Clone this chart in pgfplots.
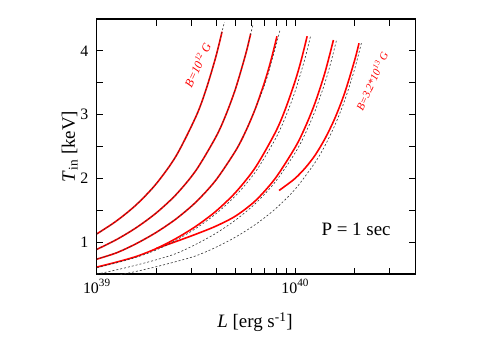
\documentclass[border=0pt]{standalone}
\usepackage{fontspec}
\setmainfont{Liberation Serif}
\usepackage{pgfplots}
\pgfplotsset{compat=1.18}
\begin{document}
\begin{tikzpicture}
\path[use as bounding box] (-96.7bp,-69bp) rectangle (394.3bp,274bp);
\begin{axis}[
  at={(0,0)}, anchor=south west,
  scale only axis, width=319bp, height=255bp,
  xmode=log, xmin=1e39, xmax=4.06e40, ymin=0.5, ymax=4.5,
  xtick={1e39,1e40}, xticklabels={10\textsuperscript{39},10\textsuperscript{40}},
  minor xtick={2e39,3e39,4e39,5e39,6e39,7e39,8e39,9e39,2e40,3e40},
  ytick={1,2,3,4}, minor ytick={1.5,2.5,3.5},
  /pgf/number format/assume math mode=true,
  tick align=inside, xtick pos=both, ytick pos=both,
  major tick length=6.5bp, minor tick length=6.5bp,
  every tick/.style={black, line width=0.8pt},
  axis line style={line width=1.2pt},
  ticklabel style={font=\fontsize{16}{16}\selectfont},
  xticklabel style={yshift=-2bp},
  yticklabel style={xshift=-5bp},
  every axis x label/.style={at={(axis description cs:0.496,-0.188)}, anchor=center},
  every axis y label/.style={at={(axis description cs:-0.085,0.5)}, rotate=90, anchor=center},
  label style={font=\fontsize{19}{19}\selectfont},
  xlabel={\textit{L} [erg s\textsuperscript{-1}]},
  ylabel={\textit{T}\textsubscript{in} [keV]},
  redc/.style={red, line width=1.6pt, smooth},
  dashc/.style={black!80, line width=0.6pt, dash pattern=on 2pt off 2pt, smooth},
]
% red model curves
\addplot[redc] coordinates {(1e39,1.129) (1.259e39,1.334) (1.585e39,1.589) (1.995e39,1.916) (2.512e39,2.353) (3.162e39,2.970) (3.548e39,3.385) (3.981e39,3.904) (4.28e39,4.30)};
\addplot[redc] coordinates {(1e39,0.886) (1.259e39,1.041) (1.585e39,1.229) (1.995e39,1.458) (2.512e39,1.747) (3.162e39,2.125) (3.981e39,2.647) (4.467e39,2.989) (5.012e39,3.411) (5.623e39,3.940) (5.97e39,4.27)};
\addplot[redc] coordinates {(1e39,0.733) (1.259e39,0.833) (1.585e39,0.978) (1.995e39,1.153) (2.512e39,1.365) (3.162e39,1.629) (3.981e39,1.971) (5.012e39,2.434) (5.623e39,2.733) (6.310e39,3.098) (7.079e39,3.549) (7.586e39,3.873) (8.1e39,4.23)};
\addplot[redc] coordinates {(1e39,0.608) (1.259e39,0.687) (1.585e39,0.776) (1.995e39,0.899) (2.512e39,1.058) (3.162e39,1.249) (3.981e39,1.483) (5.012e39,1.781) (6.310e39,2.173) (7.943e39,2.719) (8.913e39,3.080) (1e40,3.526) (1.072e40,3.849) (1.15e40,4.23)};
\addplot[redc] coordinates {(1.995e39,0.90) (2.512e39,1.01) (3.162e39,1.125) (3.981e39,1.25) (5.012e39,1.41) (6.310e39,1.65) (7.943e39,2.00) (1e40,2.485) (1.122e40,2.798) (1.259e40,3.180) (1.413e40,3.657) (1.56e40,4.17)};
\addplot[redc] coordinates {(8.3e39,1.81) (8.913e39,1.88) (1e40,2.00) (1.122e40,2.16) (1.259e40,2.36) (1.413e40,2.62) (1.585e40,2.94) (1.778e40,3.34) (1.995e40,3.85) (2.1e40,4.12)};
% dashed approximations
\addplot[dashc] coordinates {(1e39,1.129) (1.259e39,1.334) (1.585e39,1.589) (1.995e39,1.916) (2.512e39,2.353) (3.162e39,2.970) (3.548e39,3.385) (3.981e39,3.904) (4.28e39,4.30) (4.4e39,4.45)};
\addplot[dashc] coordinates {(1e39,0.886) (1.259e39,1.041) (1.585e39,1.229) (1.995e39,1.458) (2.512e39,1.747) (3.162e39,2.125) (3.981e39,2.647) (4.467e39,2.989) (5.012e39,3.411) (5.623e39,3.940) (5.97e39,4.27) (6.15e39,4.42)};
\addplot[dashc] coordinates {(1e39,0.733) (1.259e39,0.833) (1.585e39,0.978) (1.995e39,1.153) (2.512e39,1.365) (3.162e39,1.629) (3.981e39,1.971) (5.012e39,2.434) (5.623e39,2.733) (6.310e39,3.098) (7.079e39,3.50) (7.586e39,3.82) (8.1e39,4.14) (8.4e39,4.33)};
\addplot[dashc] coordinates {(1e39,0.597) (1.259e39,0.675) (1.585e39,0.763) (1.995e39,0.877) (2.512e39,1.031) (3.162e39,1.216) (3.981e39,1.443) (5.012e39,1.729) (6.310e39,2.102) (7.943e39,2.615) (8.913e39,2.952) (1e40,3.366) (1.122e40,3.884) (1.2e40,4.25)};
\addplot[dashc] coordinates {(1e39,0.498) (1.259e39,0.565) (1.585e39,0.640) (1.995e39,0.723) (2.512e39,0.821) (3.162e39,0.966) (3.981e39,1.137) (5.012e39,1.347) (6.310e39,1.607) (7.943e39,1.944) (1e40,2.400) (1.122e40,2.694) (1.259e40,3.053) (1.413e40,3.497) (1.514e40,3.817) (1.62e40,4.18)};
\addplot[dashc] coordinates {(1e39,0.419) (1.259e39,0.477) (1.585e39,0.542) (1.995e39,0.614) (2.512e39,0.695) (3.162e39,0.785) (3.981e39,0.918) (5.012e39,1.080) (6.310e39,1.277) (7.943e39,1.520) (1e40,1.830) (1.259e40,2.246) (1.413e40,2.511) (1.585e40,2.830) (1.778e40,3.222) (1.995e40,3.711) (2.17e40,4.15)};
% annotations
\node[red, rotate=65, font=\itshape\fontsize{12}{12}\selectfont] at (axis cs:3.21e39,3.78) {B=10\textsuperscript{12} G};
\node[red, rotate=66, font=\itshape\fontsize{11}{11}\selectfont] at (axis cs:2.43e40,3.53) {B=3.2*10\textsuperscript{13} G};
\node[font=\fontsize{19}{19}\selectfont] at (axis cs:2.03e40,1.20) {P = 1 sec};
\end{axis}
\end{tikzpicture}
\end{document}
